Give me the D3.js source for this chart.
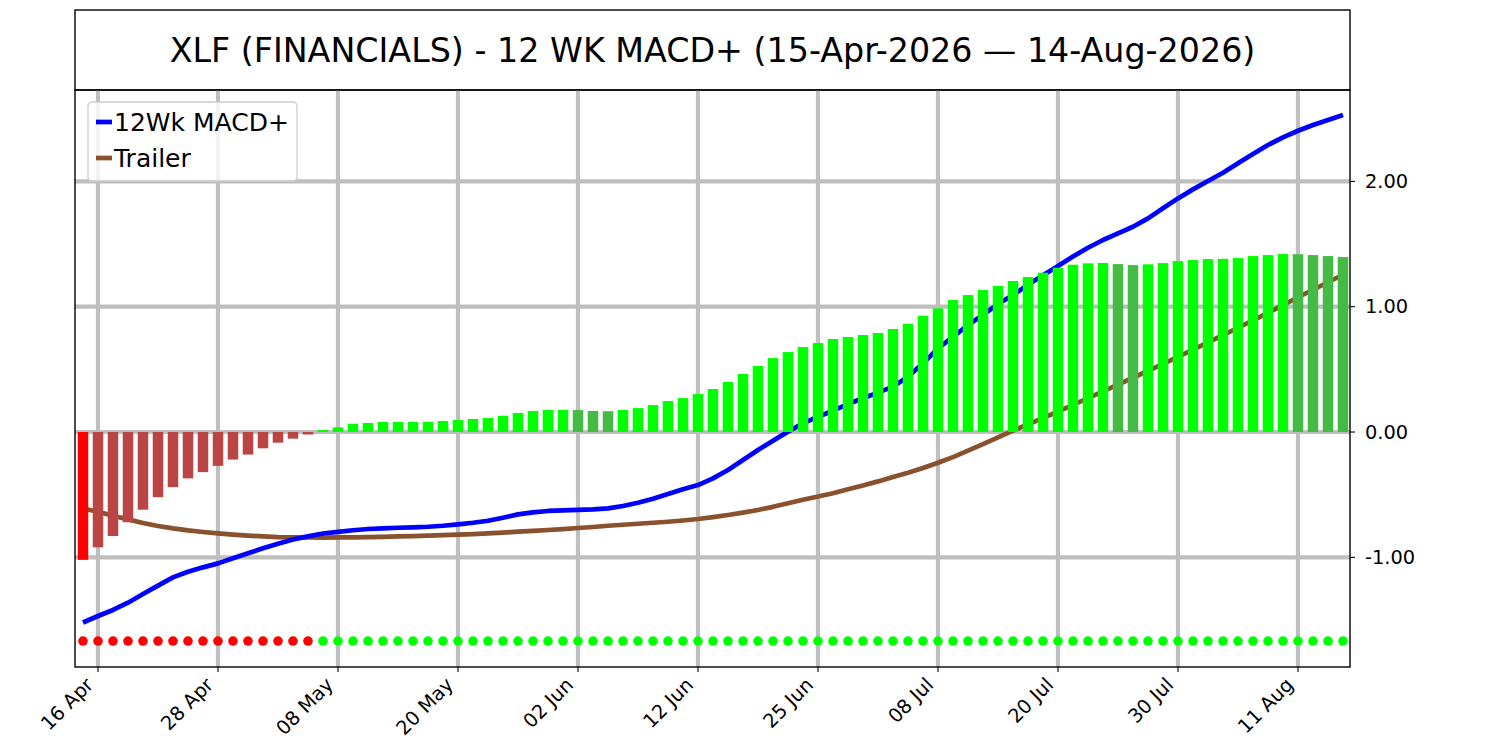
<!DOCTYPE html>
<html>
<head>
<meta charset="utf-8">
<script src="https://cdn.jsdelivr.net/npm/d3@7/dist/d3.min.js"></script>
<style>
  html, body { margin: 0; padding: 0; background: #ffffff; }
  svg { display: block; font-family: "DejaVu Sans", sans-serif; }
</style>
</head>
<body>
<svg id="chart" width="1500" height="750"></svg>
<script>
// ---------------- data ----------------
const titleText = "XLF (FINANCIALS) - 12 WK MACD+ (15-Apr-2026 \u2014 14-Aug-2026)";
const seriesNames = ["12Wk MACD+", "Trailer"];

const tickIdx = [1, 9, 17, 25, 33, 41, 49, 57, 65, 73, 81];
const tickLabels = ["16 Apr", "28 Apr", "08 May", "20 May", "02 Jun", "12 Jun",
                    "25 Jun", "08 Jul", "20 Jul", "30 Jul", "11 Aug"];
const yTicks = [-1, 0, 1, 2];

const hist = [
  -1.02, -0.92, -0.83, -0.72, -0.62, -0.52, -0.44, -0.37, -0.32, -0.27,
  -0.22, -0.18, -0.13, -0.085, -0.053, -0.02, 0.016, 0.037, 0.066, 0.072,
  0.08, 0.08, 0.08, 0.081, 0.088, 0.096, 0.104, 0.112, 0.13, 0.152,
  0.168, 0.176, 0.177, 0.175, 0.168, 0.166, 0.176, 0.191, 0.215, 0.247,
  0.271, 0.303, 0.343, 0.399, 0.463, 0.527, 0.59, 0.638, 0.678, 0.71,
  0.742, 0.758, 0.774, 0.79, 0.822, 0.864, 0.928, 0.987, 1.053, 1.093,
  1.133, 1.165, 1.205, 1.237, 1.271, 1.311, 1.335, 1.346, 1.349, 1.34,
  1.332, 1.338, 1.348, 1.364, 1.372, 1.38, 1.382, 1.388, 1.404, 1.412,
  1.42, 1.419, 1.412, 1.404, 1.396
];

const macd = [
  -1.52, -1.468, -1.42, -1.362, -1.293, -1.226, -1.16, -1.115, -1.08, -1.048,
  -1.008, -0.968, -0.928, -0.892, -0.858, -0.833, -0.81, -0.797, -0.784, -0.774,
  -0.769, -0.764, -0.761, -0.756, -0.748, -0.737, -0.724, -0.708, -0.684, -0.657,
  -0.641, -0.63, -0.625, -0.622, -0.617, -0.609, -0.59, -0.564, -0.532, -0.495,
  -0.457, -0.423, -0.37, -0.303, -0.223, -0.144, -0.069, 0.003, 0.069, 0.122,
  0.17, 0.223, 0.269, 0.314, 0.362, 0.441, 0.548, 0.668, 0.76, 0.854,
  0.934, 1.021, 1.093, 1.175, 1.25, 1.325, 1.4, 1.47, 1.532, 1.585,
  1.638, 1.705, 1.785, 1.864, 1.936, 2.003, 2.069, 2.144, 2.218, 2.29,
  2.351, 2.404, 2.45, 2.49, 2.53
];

const trailer = [
  -0.61, -0.636, -0.668, -0.697, -0.726, -0.75, -0.769, -0.785, -0.798, -0.809,
  -0.819, -0.827, -0.833, -0.838, -0.84, -0.841, -0.842, -0.841, -0.84, -0.838,
  -0.836, -0.833, -0.83, -0.827, -0.823, -0.819, -0.814, -0.809, -0.803, -0.795,
  -0.789, -0.782, -0.775, -0.766, -0.758, -0.748, -0.74, -0.732, -0.724, -0.716,
  -0.706, -0.694, -0.679, -0.662, -0.643, -0.622, -0.597, -0.569, -0.541, -0.514,
  -0.489, -0.457, -0.426, -0.394, -0.359, -0.325, -0.287, -0.245, -0.2, -0.149,
  -0.096, -0.042, 0.011, 0.061, 0.112, 0.163, 0.216, 0.27, 0.324, 0.378,
  0.433, 0.488, 0.543, 0.6, 0.658, 0.716, 0.774, 0.832, 0.89, 0.95,
  1.012, 1.075, 1.135, 1.195, 1.255
];

const dotLevel = -1.668;   // level of the signal dot row
const yDomain = [-1.875, 2.729];

// ---------------- styles ----------------
const C = {
  macd: "#0000ff", trailer: "#89512d",
  upPos: "#00ff00", downPos: "#44bb44",
  downNeg: "#ff0000", upNeg: "#bb4444",
  grid: "#bfbfbf"
};

// ---------------- layout ----------------
const svg = d3.select("#chart");
const L = 75, R = 1350, T = 90, B = 667;

const x = d3.scaleLinear().domain([-0.533, hist.length - 1 + 0.467]).range([L, R]);
const y = d3.scaleLinear().domain(yDomain).range([B, T]);
const step = x(1) - x(0);
const barW = step * 0.7;

// title box
svg.append("rect").attr("x", L).attr("y", 10).attr("width", R - L).attr("height", 80)
  .attr("fill", "#fff").attr("stroke", "#000").attr("stroke-width", 1.4);
svg.append("text").attr("x", (L + R) / 2).attr("y", 50)
  .attr("text-anchor", "middle").attr("dominant-baseline", "central")
  .attr("font-size", "33.3px").attr("fill", "#000").text(titleText);

const plot = svg.append("g");
plot.append("defs").append("clipPath").attr("id", "clip")
  .append("rect").attr("x", L).attr("y", T).attr("width", R - L).attr("height", B - T);
const inner = plot.append("g").attr("clip-path", "url(#clip)");

// grid
inner.selectAll("line.vg").data(tickIdx).enter().append("line")
  .attr("x1", d => x(d)).attr("x2", d => x(d)).attr("y1", T).attr("y2", B)
  .attr("stroke", C.grid).attr("stroke-width", 4.2);
inner.selectAll("line.hg").data(yTicks).enter().append("line")
  .attr("x1", L).attr("x2", R).attr("y1", d => y(d)).attr("y2", d => y(d))
  .attr("stroke", C.grid).attr("stroke-width", 4.2);

// lines (drawn beneath the histogram)
const lineGen = d3.line().x((d, i) => x(i)).y(d => y(d));
inner.append("path").datum(trailer).attr("d", lineGen)
  .attr("fill", "none").attr("stroke", C.trailer).attr("stroke-width", 4.7)
  .attr("stroke-linejoin", "round").attr("stroke-linecap", "butt");
inner.append("path").datum(macd).attr("d", lineGen)
  .attr("fill", "none").attr("stroke", C.macd).attr("stroke-width", 4.7)
  .attr("stroke-linejoin", "round").attr("stroke-linecap", "butt");

// histogram
function barColor(v, i) {
  const prev = i > 0 ? hist[i - 1] : Infinity;
  if (v >= 0) return v >= prev ? C.upPos : C.downPos;
  return v < prev ? C.downNeg : C.upNeg;
}
inner.selectAll("rect.bar").data(hist).enter().append("rect")
  .attr("x", (d, i) => x(i) - barW / 2)
  .attr("width", barW)
  .attr("y", d => Math.min(y(d), y(0)))
  .attr("height", d => Math.abs(y(d) - y(0)))
  .attr("fill", (d, i) => barColor(d, i));

// signal dots
inner.selectAll("circle.dot").data(hist).enter().append("circle")
  .attr("cx", (d, i) => x(i)).attr("cy", y(dotLevel)).attr("r", 4.8)
  .attr("fill", d => d < 0 ? "#ff0000" : "#00ff00");

// frame
plot.append("rect").attr("x", L).attr("y", T).attr("width", R - L).attr("height", B - T)
  .attr("fill", "none").attr("stroke", "#000").attr("stroke-width", 1.4);

// right axis ticks
const ry = plot.append("g");
ry.selectAll("line").data(yTicks).enter().append("line")
  .attr("x1", R).attr("x2", R + 5).attr("y1", d => y(d)).attr("y2", d => y(d))
  .attr("stroke", "#000").attr("stroke-width", 1.1);
ry.selectAll("text").data(yTicks).enter().append("text")
  .attr("x", R + 15).attr("y", d => y(d)).attr("dominant-baseline", "central")
  .attr("font-size", "19.4px").attr("fill", "#000").text(d => d3.format(".2f")(d).replace("\u2212", "-"));

// bottom ticks
const bx = plot.append("g");
bx.selectAll("line").data(tickIdx).enter().append("line")
  .attr("x1", d => x(d)).attr("x2", d => x(d)).attr("y1", B).attr("y2", B + 5)
  .attr("stroke", "#000").attr("stroke-width", 1.1);
bx.selectAll("text").data(tickIdx).enter().append("text")
  .attr("transform", d => `translate(${x(d) - 3.5},${B + 19}) rotate(-45)`)
  .attr("text-anchor", "end")
  .attr("font-size", "19.4px").attr("fill", "#000")
  .text((d, i) => tickLabels[i]);

// legend
const lg = svg.append("g");
lg.append("rect").attr("x", 88).attr("y", 102).attr("width", 209).attr("height", 79)
  .attr("rx", 4).attr("fill", "#fff").attr("fill-opacity", 0.8)
  .attr("stroke", "#cccccc").attr("stroke-width", 1.3);
const legendColors = [C.macd, C.trailer];
seriesNames.forEach((name, i) => {
  const cy = 122 + i * 36;
  lg.append("line").attr("x1", 96).attr("x2", 112).attr("y1", cy).attr("y2", cy)
    .attr("stroke", legendColors[i]).attr("stroke-width", 4.7);
  lg.append("text").attr("x", 114).attr("y", cy).attr("dominant-baseline", "central")
    .attr("font-size", "25px").attr("fill", "#000").text(name);
});
</script>
</body>
</html>
